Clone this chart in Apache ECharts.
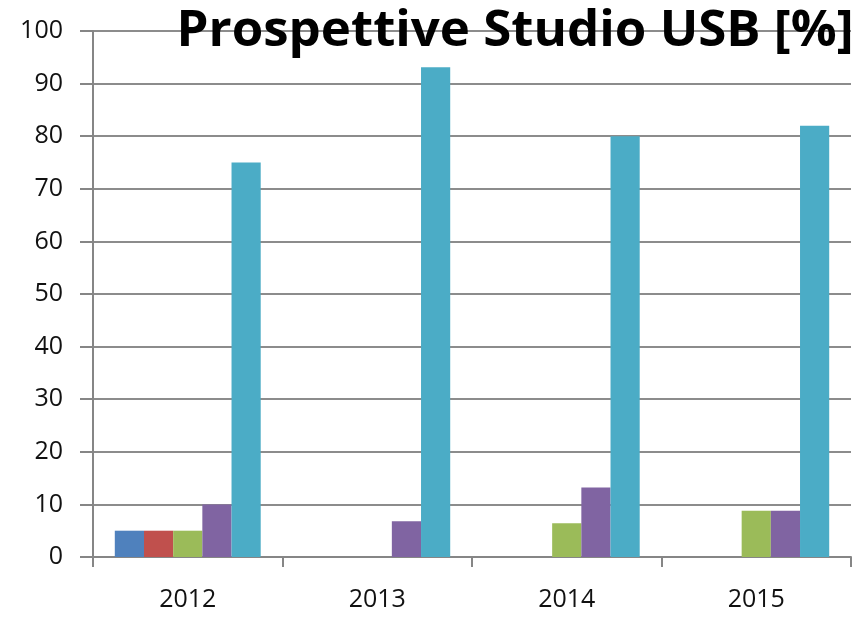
<!DOCTYPE html>
<html>
<head>
<meta charset="utf-8">
<script src="https://cdn.jsdelivr.net/npm/echarts@6/dist/echarts.min.js"></script>
<style>
html,body{margin:0;padding:0;background:#fff;}
#c{width:853px;height:618px;}
</style>
</head>
<body>
<div id="c"></div>
<script>
const titleText = "Prospettive Studio USB [%]";
const categories = ["2012", "2013", "2014", "2015"];
const yTicks = [0, 10, 20, 30, 40, 50, 60, 70, 80, 90, 100];
const seriesA = [5, 0, 0, 0];
const seriesB = [5, 0, 0, 0];
const seriesC = [5, 0, 6.4, 8.8];
const seriesD = [10, 6.8, 13.2, 8.8];
const seriesE = [75, 93.1, 80, 82];
const colors = ["#4F81BD", "#C0504D", "#9BBB59", "#8064A2", "#4BACC6"];

const allSeries = [seriesA, seriesB, seriesC, seriesD, seriesE];
const chart = echarts.init(document.getElementById('c'), null, {renderer: 'canvas'});
const font = "'Open Sans', 'Liberation Sans', sans-serif";
chart.setOption({
  animation: false,
  backgroundColor: '#fff',
  title: {
    text: titleText,
    left: 510,
    textAlign: 'center',
    top: 1,
    textStyle: {fontFamily: font, fontWeight: 'bold', fontSize: 51, color: '#000'}
  },
  grid: {left: 93, right: 2, top: 31, bottom: 61, containLabel: false},
  xAxis: {
    type: 'category',
    data: categories,
    axisLine: {lineStyle: {color: '#868686', width: 2}},
    axisTick: {show: true, length: 10, lineStyle: {color: '#868686', width: 2}},
    axisLabel: {fontFamily: font, fontSize: 25, color: '#111', margin: 30}
  },
  yAxis: {
    type: 'value',
    min: yTicks[0],
    max: yTicks[yTicks.length - 1],
    interval: yTicks[1] - yTicks[0],
    axisLine: {show: true, lineStyle: {color: '#868686', width: 2}},
    axisTick: {show: true, length: 13, lineStyle: {color: '#868686', width: 2}},
    splitLine: {lineStyle: {color: '#8c8c8c', width: 2}},
    axisLabel: {fontFamily: font, fontSize: 25, color: '#111', margin: 30}
  },
  series: allSeries.map((d, i) => ({
    type: 'bar',
    data: d,
    barGap: '0%',
    barCategoryGap: '23%',
    itemStyle: {color: colors[i]}
  }))
});
</script>
</body>
</html>
